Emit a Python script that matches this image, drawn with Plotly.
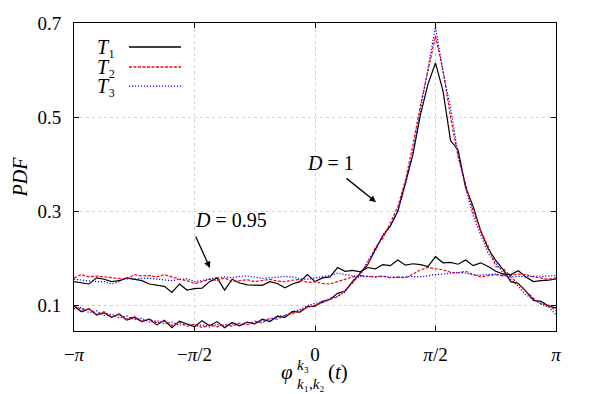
import numpy as np
import plotly.graph_objects as go

# phase bins (65 bins from -pi to pi)
phi = np.linspace(-np.pi, np.pi, 65)

# D = 1 (peaked at pi/2)
t1_d1 = [0.098, 0.086, 0.092, 0.079, 0.084, 0.074, 0.081, 0.068, 0.074, 0.065,
         0.070, 0.058, 0.068, 0.052, 0.066, 0.060, 0.054, 0.067, 0.056, 0.065,
         0.052, 0.063, 0.056, 0.064, 0.060, 0.070, 0.065, 0.076, 0.074, 0.086,
         0.085, 0.097, 0.098, 0.108, 0.112, 0.125, 0.130, 0.150, 0.168, 0.186,
         0.218, 0.247, 0.268, 0.300, 0.360, 0.420, 0.505, 0.570, 0.615, 0.555,
         0.450, 0.430, 0.350, 0.310, 0.258, 0.220, 0.195, 0.175, 0.150, 0.146,
         0.130, 0.110, 0.108, 0.098, 0.094]
t2_d1 = [0.100, 0.090, 0.092, 0.080, 0.086, 0.075, 0.080, 0.070, 0.076, 0.066,
         0.071, 0.062, 0.066, 0.057, 0.063, 0.055, 0.060, 0.052, 0.058, 0.054,
         0.059, 0.055, 0.062, 0.058, 0.066, 0.062, 0.073, 0.070, 0.078, 0.082,
         0.088, 0.095, 0.100, 0.105, 0.112, 0.118, 0.132, 0.147, 0.168, 0.188,
         0.222, 0.242, 0.275, 0.310, 0.365, 0.440, 0.525, 0.600, 0.672, 0.600,
         0.500, 0.415, 0.360, 0.300, 0.258, 0.225, 0.182, 0.178, 0.160, 0.145,
         0.128, 0.115, 0.102, 0.100, 0.088]
t3_d1 = [0.092, 0.095, 0.084, 0.088, 0.078, 0.081, 0.073, 0.077, 0.069, 0.072,
         0.064, 0.067, 0.060, 0.064, 0.057, 0.061, 0.055, 0.058, 0.054, 0.059,
         0.055, 0.060, 0.057, 0.063, 0.061, 0.068, 0.068, 0.077, 0.077, 0.087,
         0.090, 0.099, 0.104, 0.107, 0.115, 0.118, 0.128, 0.152, 0.162, 0.195,
         0.215, 0.250, 0.268, 0.300, 0.355, 0.425, 0.515, 0.600, 0.692, 0.595,
         0.520, 0.420, 0.350, 0.290, 0.250, 0.210, 0.190, 0.168, 0.155, 0.140,
         0.122, 0.113, 0.103, 0.096, 0.080]

# D = 0.95 (nearly flat)
t1_d095 = [0.150, 0.148, 0.145, 0.158, 0.155, 0.150, 0.152, 0.158, 0.155, 0.152,
           0.145, 0.143, 0.140, 0.127, 0.145, 0.132, 0.135, 0.136, 0.150, 0.158,
           0.132, 0.155, 0.147, 0.143, 0.142, 0.142, 0.150, 0.146, 0.137, 0.145,
           0.150, 0.165, 0.150, 0.158, 0.160, 0.180, 0.172, 0.174, 0.171, 0.180,
           0.177, 0.186, 0.184, 0.196, 0.185, 0.188, 0.186, 0.182, 0.203, 0.190,
           0.191, 0.187, 0.196, 0.184, 0.190, 0.182, 0.172, 0.166, 0.165, 0.173,
           0.160, 0.150, 0.152, 0.153, 0.156]
t2_d095 = [0.158, 0.165, 0.160, 0.162, 0.160, 0.158, 0.156, 0.155, 0.165, 0.162,
           0.163, 0.160, 0.165, 0.160, 0.155, 0.152, 0.146, 0.150, 0.155, 0.152,
           0.158, 0.150, 0.152, 0.154, 0.150, 0.153, 0.155, 0.151, 0.150, 0.153,
           0.155, 0.148, 0.150, 0.146, 0.145, 0.150, 0.155, 0.160, 0.163, 0.161,
           0.160, 0.162, 0.158, 0.160, 0.158, 0.166, 0.175, 0.180, 0.178, 0.175,
           0.170, 0.168, 0.172, 0.165, 0.160, 0.163, 0.165, 0.162, 0.163, 0.166,
           0.165, 0.160, 0.158, 0.155, 0.158]
t3_d095 = [0.155, 0.153, 0.152, 0.150, 0.150, 0.145, 0.150, 0.158, 0.155, 0.157,
           0.157, 0.155, 0.153, 0.152, 0.155, 0.156, 0.150, 0.152, 0.156, 0.158,
           0.160, 0.158, 0.161, 0.162, 0.160, 0.157, 0.158, 0.160, 0.161, 0.160,
           0.156, 0.155, 0.158, 0.160, 0.163, 0.168, 0.165, 0.162, 0.161, 0.160,
           0.160, 0.161, 0.160, 0.159, 0.160, 0.161, 0.160, 0.163, 0.165, 0.166,
           0.168, 0.170, 0.168, 0.165, 0.164, 0.165, 0.166, 0.163, 0.160, 0.161,
           0.160, 0.162, 0.161, 0.162, 0.163]

x_ticks = [-np.pi, -np.pi / 2, 0, np.pi / 2, np.pi]
x_tick_text = ["\u2212<i>\u03c0</i>", "\u2212<i>\u03c0</i>/2", "0", "<i>\u03c0</i>/2", "<i>\u03c0</i>"]
y_ticks = [0.1, 0.3, 0.5, 0.7]

FONT = "Liberation Serif"
styles = [("black", "solid"), ("#ff0000", "3px,1.5px"), ("#0000ff", "1.2px,1.8px")]

fig = go.Figure()
for (col, dash), ys in zip(styles, [t1_d1, t2_d1, t3_d1]):
    fig.add_trace(go.Scatter(x=phi, y=ys, mode="lines",
                             line=dict(color=col, dash=dash, width=1.2)))
for (col, dash), ys in zip(styles, [t1_d095, t2_d095, t3_d095]):
    fig.add_trace(go.Scatter(x=phi, y=ys, mode="lines",
                             line=dict(color=col, dash=dash, width=1.2)))

axis_common = dict(showline=True, linecolor="black", linewidth=1, mirror="ticks",
                   ticks="inside", ticklen=5, tickcolor="black", automargin=False,
                   showgrid=True, gridcolor="#d2d2d2", griddash="dot", gridwidth=1,
                   zeroline=False, tickfont=dict(family=FONT, size=19, color="black"))

fig.update_xaxes(range=[-np.pi, np.pi], tickvals=x_ticks, ticktext=x_tick_text,
                 ticklabelstandoff=6, **axis_common)
fig.update_yaxes(range=[0.045, 0.7], tickvals=y_ticks, ticktext=["0.1", "0.3", "0.5", "0.7"],
                 ticklabelstandoff=8,
                 title=dict(text="<i>PDF</i>", font=dict(family=FONT, size=20), standoff=4),
                 **axis_common)

# legend (gnuplot style: label left of sample)
leg_y = [0.922, 0.857, 0.795]
for i, ((col, dash), yy) in enumerate(zip(styles, leg_y)):
    fig.add_shape(type="line", xref="paper", yref="paper", x0=0.114, x1=0.222, y0=yy, y1=yy,
                  line=dict(color=col, dash=dash, width=1.4))
    fig.add_annotation(xref="paper", yref="paper", x=0.089, y=yy, xanchor="right",
                       yanchor="middle", text=f"<i>T</i>{chr(0x2080 + i + 1)}",
                       showarrow=False, font=dict(family=FONT, size=20, color="black"))

# D labels + arrows
fig.add_annotation(xref="paper", yref="paper", x=0.247, y=0.36, text="<i>D</i> = 0.95",
                   showarrow=False, font=dict(family=FONT, size=20, color="black"))
fig.add_annotation(x=-1.369, y=0.179, ax=-15, ay=-33, text="", showarrow=True,
                   arrowhead=2, arrowsize=1, arrowwidth=1.3, arrowcolor="black")
fig.add_annotation(xref="paper", yref="paper", x=0.533, y=0.545, text="<i>D</i> = 1",
                   showarrow=False, font=dict(family=FONT, size=20, color="black"))
fig.add_annotation(x=0.795, y=0.319, ax=-31, ay=-25, text="", showarrow=True,
                   arrowhead=2, arrowsize=1, arrowwidth=1.3, arrowcolor="black")

# x-axis title: phi^{k3}_{k1,k2}(t)
fig.add_annotation(xref="paper", yref="paper", x=0.442, y=-0.18, text="<i>\u03c6</i>",
                   showarrow=False, font=dict(family=FONT, size=21, color="black"))
fig.add_annotation(xref="paper", yref="paper", x=0.459, y=-0.142, xanchor="left",
                   text="<i>k</i>\u2083", showarrow=False,
                   font=dict(family=FONT, size=15, color="black"))
fig.add_annotation(xref="paper", yref="paper", x=0.459, y=-0.205, xanchor="left",
                   text="<i>k</i>\u2081,<i>k</i>\u2082", showarrow=False,
                   font=dict(family=FONT, size=15, color="black"))
fig.add_annotation(xref="paper", yref="paper", x=0.523, y=-0.18, xanchor="left",
                   text="(<i>t</i>)", showarrow=False,
                   font=dict(family=FONT, size=21, color="black"))

fig.update_layout(width=591, height=394, showlegend=False,
                  margin=dict(l=74, r=35, t=23, b=63, autoexpand=False),
                  plot_bgcolor="white", paper_bgcolor="white",
                  font=dict(family=FONT, color="black"))

fig.write_html("out.html", config={"displayModeBar": False},
               post_script="document.body.style.margin='0';")
